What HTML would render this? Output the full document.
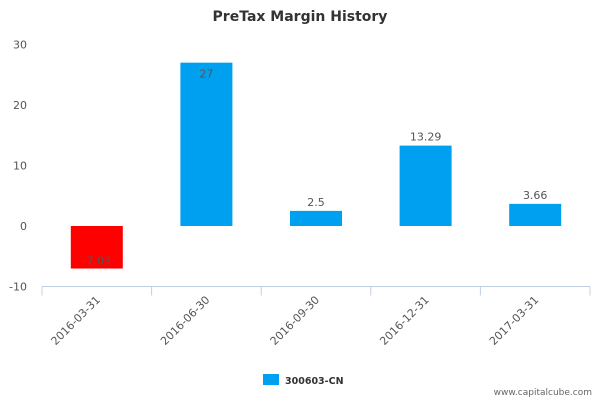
<!DOCTYPE html>
<html><head><meta charset="utf-8"><style>
body{margin:0;background:#fff;}
svg{display:block;font-family:"DejaVu Sans","Liberation Sans",sans-serif;}
</style></head><body>
<svg id="chart" width="600" height="400">
<text x="300" y="21" text-anchor="middle" font-size="14" font-weight="bold" fill="#333">PreTax Margin History</text>
<g id="grid"></g><g id="bars"></g><g id="labels"></g>
<rect x="263" y="374" width="16" height="11" fill="#00a0f0"/>
<text x="285" y="384" font-size="9.5" font-weight="bold" fill="#333">300603-CN</text>
<text x="592" y="395" text-anchor="end" font-size="9" fill="#666">www.capitalcube.com</text>
</svg>
<script>
const categories=["2016-03-31","2016-06-30","2016-09-30","2016-12-31","2017-03-31"];
const values=[-7.03,27,2.5,13.29,3.66];
const valueLabels=["-7.03","27","2.5","13.29","3.66"];
const yTicks=[-10,0,10,20,30];
const NS="http://www.w3.org/2000/svg";
const x0=42,x1=590,yMin=-10,yMax=30,pTop=44.5,pBot=286.5;
const bw=(x1-x0)/categories.length;
function y(v){return pBot-(v-yMin)/(yMax-yMin)*(pBot-pTop);}
function mk(tag,attrs,parent){const e=document.createElementNS(NS,tag);for(const k in attrs)e.setAttribute(k,attrs[k]);parent.appendChild(e);return e;}
const svg=document.getElementById('chart');
const grid=document.getElementById('grid'),bars=document.getElementById('bars'),labels=document.getElementById('labels');
yTicks.forEach(t=>{
  const e=mk('text',{x:27,y:y(t)+4,'text-anchor':'end','font-size':11,fill:'#555'},grid);
  e.textContent=t;
  
  
});
const ax=mk('line',{x1:x0,x2:x1,y1:pBot,y2:pBot,stroke:'#c0d0e0','stroke-width':1},grid);


for(let i=0;i<=categories.length;i++){
  const tx=x0+i*bw;
  const tk=mk('line',{x1:tx,x2:tx,y1:pBot,y2:pBot+9,stroke:'#c0d0e0'},grid);
  
  
}
categories.forEach((c,i)=>{
  const cx=x0+bw*(i+0.5);
  const lbl=mk('text',{x:cx+4,y:pBot+14,'text-anchor':'end','font-size':11,fill:'#555',transform:`rotate(-45 ${cx+4} ${pBot+14})`},labels);
  lbl.textContent=c;
  
  
  const v=values[i];
  const top=y(Math.max(v,0)),bot=y(Math.min(v,0));
  const r=mk('rect',{x:cx-26,y:top,width:52,height:bot-top,fill:v<0?'#ff0000':'#00a0f0'},bars);
  
  
  let ly;
  if(v<0) ly=bot-4; else if(v>yMax*0.8) ly=top+15; else ly=top-5;
  const t=mk('text',{x:cx,y:ly,'text-anchor':'middle','font-size':11,fill:'#555'},labels);
  t.textContent=valueLabels[i];
  
  
});
</script>
</body></html>
